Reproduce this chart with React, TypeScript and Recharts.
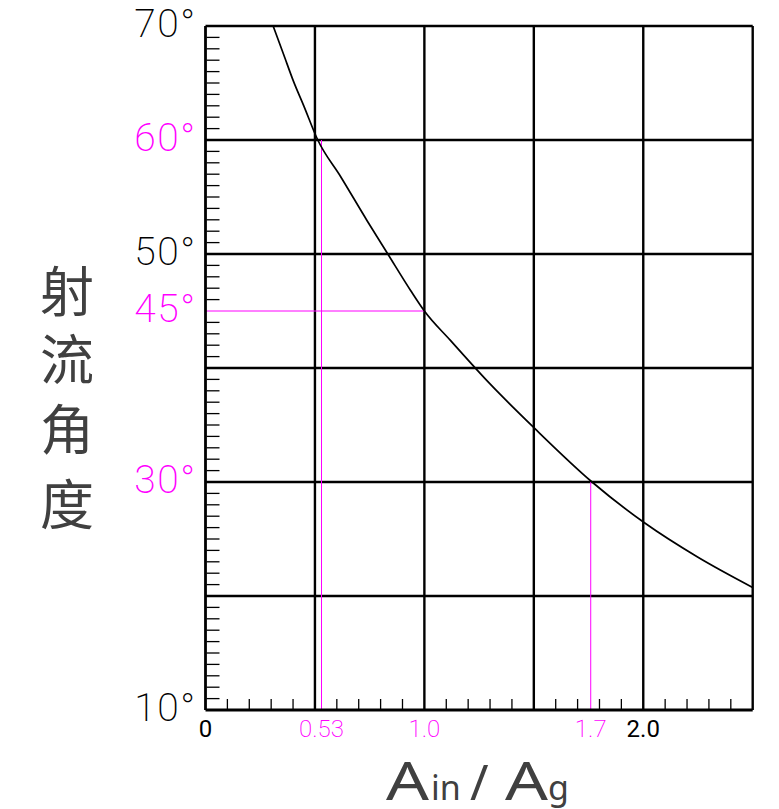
import React from 'react';
import { LineChart, Line, XAxis, YAxis, ReferenceLine } from 'recharts';

// Curve: area ratio Ain/Ag vs jet angle (deg)
const ratioValues = [0.309, 0.357, 0.403, 0.449, 0.513, 0.617, 0.739, 0.833, 0.937, 1.0, 1.12, 1.3, 1.504, 1.766, 2.007, 2.25, 2.5];
const angleValues = [70, 67.5, 65.1, 63.0, 60.0, 56.8, 52.9, 50.0, 46.8, 45.0, 42.4, 38.6, 34.7, 30.0, 26.4, 23.4, 20.75];

// Axis ticks
const yTickValues = [70, 60, 50, 45, 30, 10];
const yTickLabels = ['70°', '60°', '50°', '45°', '30°', '10°'];
const yTickMagenta = [false, true, false, true, true, false];

const xTickValues = [0, 0.53, 1.0, 1.76, 2.0];
const xTickLabels = ['0', '0.53', '1.0', '1.7', '2.0'];
const xTickMagenta = [false, true, true, true, false];

const yGridValues = [20, 30, 40, 50, 60, 70];
const xGridValues = [0.5, 1.0, 1.5, 2.0, 2.5];

// Highlighted reading lines
const guideA = { x: 0.53, y: 60 };
const guideB = { x: 1.0, y: 45 };
const guideC = { x: 1.76, y: 30 };

const minorY: number[] = [];
for (let v = 11; v < 70; v++) if (v % 10 !== 0 && v !== 45) minorY.push(v);
const minorX: number[] = [];
for (let i = 1; i < 25; i++) if (i % 5 !== 0) minorX.push(i / 10);

const data = ratioValues.map((x, i) => ({ x, y: angleValues[i] }));

const MAGENTA = '#ff00ff';
const TICK_FONT = 'Roboto, "DejaVu Sans", sans-serif';

const EmptyTick = () => <g />;

const YTick = (props: any) => {
  const { x, y, payload } = props;
  const i = yTickValues.indexOf(payload.value);
  if (i < 0) return <g />;
  return (
    <text x={x - 9} y={y + 11} textAnchor="end" fontFamily={TICK_FONT} fontWeight={200} fontSize={39}
      letterSpacing={1.5} fill={yTickMagenta[i] ? MAGENTA : '#000'}>{yTickLabels[i]}</text>
  );
};

const XTick = (props: any) => {
  const { x, y, payload } = props;
  const i = xTickValues.indexOf(payload.value);
  if (i < 0) return <g />;
  return (
    <text x={x} y={y + 27} textAnchor="middle" fontFamily={TICK_FONT} fontWeight={xTickMagenta[i] ? 200 : 400} fontSize={24}
      fill={xTickMagenta[i] ? MAGENTA : '#000'}>{xTickLabels[i]}</text>
  );
};

export default function App() {
  return (
    <div style={{ position: 'relative', width: 779, height: 809, background: '#fff' }}>
      <style>{'body{margin:0;background:#fff}'}</style>
      <LineChart width={779} height={809} data={data} margin={{ top: 26, right: 26.3, bottom: 99, left: 205.5 }}>
        <XAxis xAxisId="minor" type="number" dataKey="x" domain={[0, 2.5]} ticks={minorX} interval={0}
          mirror orientation="bottom" height={1} tick={<EmptyTick />} axisLine={false} tickSize={10}
          tickLine={{ stroke: '#000', strokeWidth: 1.3 }} allowDataOverflow />
        <YAxis yAxisId="minor" type="number" domain={[10, 70]} ticks={minorY} interval={0}
          mirror orientation="left" width={1} tick={<EmptyTick />} axisLine={false} tickSize={13}
          tickLine={{ stroke: '#000', strokeWidth: 1.3 }} allowDataOverflow />
        <XAxis xAxisId="main" type="number" dataKey="x" domain={[0, 2.5]} ticks={xTickValues} interval={0}
          mirror orientation="bottom" height={1} tickLine={false} tickSize={0} tickMargin={0} tick={<XTick />}
          axisLine={{ stroke: '#000', strokeWidth: 2.8 }} allowDataOverflow />
        <YAxis yAxisId="main" type="number" domain={[10, 70]} ticks={yTickValues} interval={0}
          mirror orientation="left" width={1} tickLine={false} tickSize={0} tickMargin={0} tick={<YTick />}
          axisLine={{ stroke: '#000', strokeWidth: 2.8 }} allowDataOverflow />
        {yGridValues.map((v) => (
          <ReferenceLine key={'gy' + v} xAxisId="main" yAxisId="main" y={v} stroke="#000" strokeWidth={2.4} />
        ))}
        {xGridValues.map((v) => (
          <ReferenceLine key={'gx' + v} xAxisId="main" yAxisId="main" x={v} stroke="#000" strokeWidth={2.4} />
        ))}
        <ReferenceLine xAxisId="main" yAxisId="main" stroke={MAGENTA} strokeWidth={1}
          segment={[{ x: guideA.x, y: 10 }, { x: guideA.x, y: guideA.y }]} />
        <ReferenceLine xAxisId="main" yAxisId="main" stroke={MAGENTA} strokeWidth={1}
          segment={[{ x: 0, y: guideB.y }, { x: guideB.x, y: guideB.y }]} />
        <ReferenceLine xAxisId="main" yAxisId="main" stroke={MAGENTA} strokeWidth={1}
          segment={[{ x: guideC.x, y: 10 }, { x: guideC.x, y: guideC.y }]} />
        <Line xAxisId="main" yAxisId="main" type="monotone" dataKey="y" stroke="#000" strokeWidth={1.7}
          dot={false} isAnimationActive={false} />
      </LineChart>
      <svg width={779} height={809} style={{ position: 'absolute', left: 0, top: 0, pointerEvents: 'none' }}>
        <g fontFamily='"Noto Sans CJK SC", sans-serif' fontSize={54} fill="#404040" textAnchor="middle">
          <text x={67} y={288} dominantBaseline="central">射</text>
          <text x={67} y={356} dominantBaseline="central">流</text>
          <text x={67} y={426} dominantBaseline="central">角</text>
          <text x={67} y={501} dominantBaseline="central">度</text>
        </g>
        <g fontFamily='"Noto Sans", sans-serif' fill="#404040">
          <text x={386} y={800} fontSize={53} textLength={43} lengthAdjust="spacingAndGlyphs">A</text>
          <text x={431} y={800} fontSize={34}>in</text>
          <text x={470} y={800} fontSize={50}>/</text>
          <text x={505} y={800} fontSize={53} textLength={43} lengthAdjust="spacingAndGlyphs">A</text>
          <text x={548} y={800} fontSize={34}>g</text>
        </g>
      </svg>
    </div>
  );
}
